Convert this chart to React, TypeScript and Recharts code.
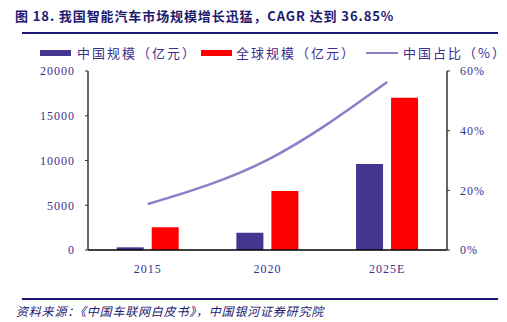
import {
  ComposedChart,
  Bar,
  Line,
  XAxis,
  YAxis,
} from "recharts";

const years = ["2015", "2020", "2025E"];
const chinaSize = [300, 1930, 9600];
const globalSize = [2540, 6600, 17000];
const chinaShare = [15.4, 30.2, 56.3];
const leftTicks = [0, 5000, 10000, 15000, 20000];
const rightTicks = [0, 20, 40, 60];

const data = years.map((y, i) => ({
  year: y,
  china: chinaSize[i],
  global: globalSize[i],
  share: chinaShare[i],
}));

const NAVY = "#3d2f8f";
const CJK = "'Noto Sans CJK SC', sans-serif";
const TICK = { fontSize: 12, fill: NAVY, fontFamily: "'Liberation Serif', serif", letterSpacing: 1 };

export default function App() {
  return (
    <div style={{ position: "absolute", left: 0, top: 0, width: 507, height: 322, background: "#fff" }}>
      <div
        style={{
          position: "absolute",
          left: 15,
          top: 6,
          fontSize: 13,
          fontWeight: 700,
          letterSpacing: 0.9,
          color: "#1c1a70",
          fontFamily: CJK,
          whiteSpace: "nowrap",
        }}
      >
        图 18. 我国智能汽车市场规模增长迅猛，CAGR 达到 36.85%
      </div>
      <div style={{ position: "absolute", left: 22, top: 32, width: 476, height: 2, background: "#1c1a70" }} />

      <div
        style={{
          position: "absolute",
          left: 40,
          top: 43,
          display: "flex",
          alignItems: "center",
          fontSize: 13,
          color: NAVY,
          fontFamily: CJK,
          whiteSpace: "nowrap",
        }}
      >
        <span style={{ width: 31, height: 6, background: "#433590", marginRight: 6 }} />
        <span style={{ marginRight: 4, letterSpacing: 2 }}>中国规模（亿元）</span>
        <span style={{ width: 31, height: 6, background: "#ff0000", marginRight: 4 }} />
        <span style={{ marginRight: 10, letterSpacing: 2 }}>全球规模（亿元）</span>
        <span style={{ width: 32, height: 2, background: "#8a7fc8", marginRight: 5 }} />
        <span style={{ letterSpacing: 2 }}>中国占比（%）</span>
      </div>

      <div style={{ position: "absolute", left: 0, top: 0 }}>
        <ComposedChart
          width={507}
          height={322}
          data={data}
          margin={{ top: 71, right: 0, bottom: 52, left: 0 }}
          barGap={8}
          barCategoryGap="24%"
        >
          <XAxis
            dataKey="year"
            tick={TICK}
            axisLine={{ stroke: "#000", strokeWidth: 1.5 }}
            tickLine={false}
            height={20}
            tickMargin={8}
            interval={0}
          />
          <YAxis
            yAxisId="left"
            domain={[0, 20000]}
            ticks={leftTicks}
            width={88}
            tick={TICK}
            axisLine={{ stroke: "#333", strokeWidth: 1.5 }}
            tickLine={{ stroke: "#333" }}
            tickSize={3}
            tickMargin={10}
          />
          <YAxis
            yAxisId="right"
            orientation="right"
            domain={[0, 60]}
            ticks={rightTicks}
            tickFormatter={(v) => `${v}%`}
            width={60}
            tick={TICK}
            axisLine={{ stroke: "#333", strokeWidth: 1.5 }}
            tickLine={{ stroke: "#333" }}
            tickSize={3}
            tickMargin={10}
          />
          <Bar yAxisId="left" dataKey="china" fill="#433590" isAnimationActive={false} />
          <Bar yAxisId="left" dataKey="global" fill="#ff0000" isAnimationActive={false} />
          <Line
            yAxisId="right"
            type="monotone"
            dataKey="share"
            stroke="#8a7fc8"
            strokeWidth={2.5}
            dot={false}
            isAnimationActive={false}
          />
        </ComposedChart>
      </div>

      <div style={{ position: "absolute", left: 22, top: 298, width: 476, height: 2, background: "#1c1a70" }} />
      <div
        style={{
          position: "absolute",
          left: 16,
          top: 302,
          fontSize: 12,
          letterSpacing: 0.8,
          fontStyle: "italic",
          color: "#1c1a70",
          fontFamily: CJK,
          whiteSpace: "nowrap",
        }}
      >
        资料来源：《中国车联网白皮书》，中国银河证券研究院
      </div>
    </div>
  );
}
